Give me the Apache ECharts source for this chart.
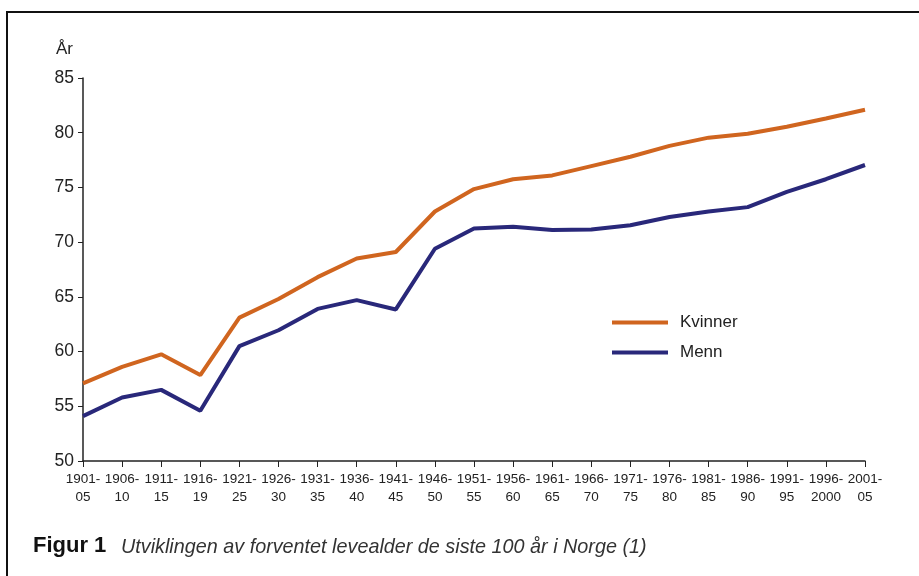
<!DOCTYPE html>
<html>
<head>
<meta charset="utf-8">
<script src="https://cdn.jsdelivr.net/npm/echarts@6/dist/echarts.min.js"></script>
<style>
  html, body { margin: 0; padding: 0; background: #fff; }
  #chart { width: 919px; height: 576px; }
</style>
</head>
<body>
<div id="chart"></div>
<script>
// periods on the x axis
var periods = ['1901-\n05', '1906-\n10', '1911-\n15', '1916-\n19', '1921-\n25', '1926-\n30',
  '1931-\n35', '1936-\n40', '1941-\n45', '1946-\n50', '1951-\n55', '1956-\n60', '1961-\n65',
  '1966-\n70', '1971-\n75', '1976-\n80', '1981-\n85', '1986-\n90', '1991-\n95', '1996-\n2000', '2001-\n05']

// expected lifetime, years
var kvinner = [57.1, 58.6, 59.75, 57.85, 63.1, 64.8, 66.8, 68.5, 69.1, 72.8, 74.85,
  75.75, 76.1, 76.95, 77.8, 78.8, 79.55, 79.9, 80.55, 81.3, 82.1]
var menn = [54.1, 55.8, 56.5, 54.6, 60.5, 61.95, 63.9, 64.7, 63.85, 69.4, 71.25,
  71.4, 71.1, 71.15, 71.55, 72.3, 72.8, 73.2, 74.6, 75.75, 77.05]

var font = 'Helvetica, "Liberation Sans", Arial, sans-serif'
var myChart = echarts.init(document.getElementById('chart'))

myChart.setOption({
  animation: false,
  textStyle: { fontFamily: font },
  grid: { left: 83, right: 54, top: 78, bottom: 115, containLabel: false },
  legend: {
    orient: 'vertical',
    left: 612,
    top: 314,
    padding: 0,
    icon: 'rect',
    itemWidth: 56,
    itemHeight: 4,
    itemGap: 13,
    textStyle: { fontSize: 17, color: '#222', padding: [0, 0, 0, 7] },
    data: ['Kvinner', 'Menn']
  },
  xAxis: {
    type: 'category',
    boundaryGap: false,
    data: periods,
    axisLine: { lineStyle: { color: '#222', width: 1.5 } },
    axisTick: { length: 6, lineStyle: { color: '#222' } },
    axisLabel: { color: '#222', fontSize: 13.5, lineHeight: 18, margin: 9, interval: 0 }
  },
  yAxis: {
    type: 'value',
    min: 50,
    max: 85,
    interval: 5,
    name: 'År',
    nameLocation: 'end',
    nameGap: 20,
    nameTextStyle: { color: '#222', fontSize: 17, align: 'right', padding: [0, 10, 0, 0] },
    splitLine: { show: false },
    axisLine: { show: true, lineStyle: { color: '#222', width: 1.5 } },
    axisTick: { show: true, length: 5, lineStyle: { color: '#222' } },
    axisLabel: { color: '#222', fontSize: 17.5, margin: 9 }
  },
  series: [
    {
      name: 'Kvinner',
      type: 'line',
      symbol: 'none',
      color: '#d0651f',
      lineStyle: { width: 4 },
      data: kvinner
    },
    {
      name: 'Menn',
      type: 'line',
      symbol: 'none',
      color: '#29287a',
      lineStyle: { width: 4 },
      data: menn
    }
  ],
  graphic: [
    {
      type: 'rect',
      shape: { x: 7, y: 12, width: 1000, height: 1000 },
      style: { fill: 'none', stroke: '#111', lineWidth: 2 }
    },
    {
      type: 'text',
      left: 33,
      top: 535,
      style: { text: 'Figur 1', font: 'bold 22px ' + font, fill: '#111' }
    },
    {
      type: 'text',
      left: 121,
      top: 537,
      style: { text: 'Utviklingen av forventet levealder de siste 100 år i Norge (1)', font: 'italic 19.8px ' + font, fill: '#333' }
    }
  ]
})
</script>
</body>
</html>
